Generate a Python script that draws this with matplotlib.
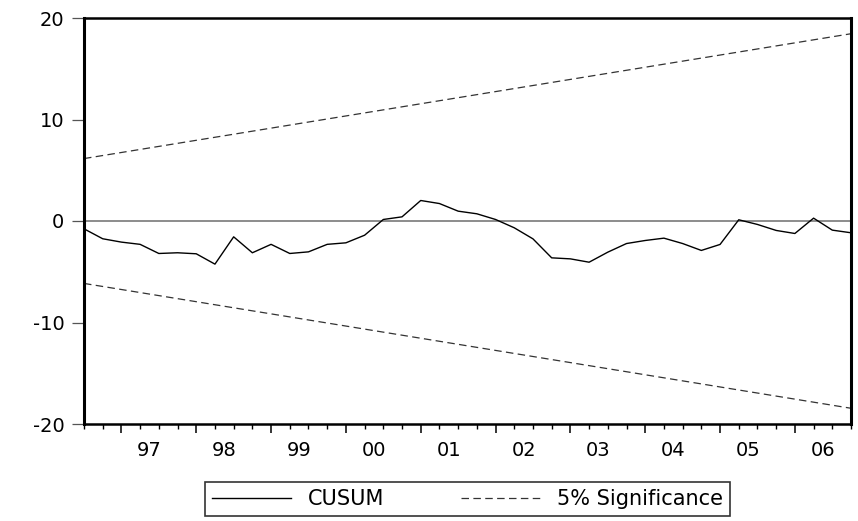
import matplotlib
matplotlib.use("Agg")
import matplotlib.pyplot as plt
import numpy as np

plt.rcParams["font.family"] = ["DejaVu Sans"]

# quarterly CUSUM, 1996Q3 .. 2006Q4
first_year, first_quarter = 1996, 3
cusum = [
    -0.77, -1.75, -2.08, -2.30, -3.20, -3.13, -3.23, -4.25, -1.56, -3.13,
    -2.30, -3.20, -3.04, -2.30, -2.15, -1.40, 0.15, 0.41, 2.02, 1.72,
    0.97, 0.71, 0.15, -0.67, -1.76, -3.63, -3.73, -4.06, -3.07, -2.22,
    -1.92, -1.69, -2.22, -2.90, -2.31, 0.12, -0.34, -0.93, -1.23, 0.28,
    -0.90, -1.16,
]
# 5% significance bounds at first and last observation (straight lines)
upper_bound = [6.15, 18.45]
lower_bound = [-6.15, -18.45]
year_labels = ["97", "98", "99", "00", "01", "02", "03", "04", "05", "06"]
y_ticks = [-20, -10, 0, 10, 20]

n = len(cusum)
x = np.arange(n)
ends = [0, n - 1]
# index of Q1 for each labelled year
q1_index = [(1 + k) * 4 - (first_quarter - 1) for k in range(len(year_labels))]
year_mid = [q + 1.5 for q in q1_index]

fig = plt.figure(figsize=(8.58, 5.21), dpi=100)
ax = fig.add_axes([84 / 858, 1 - 424 / 521, (851 - 84) / 858, (424 - 18) / 521])

ax.axhline(0, color="#6e6e6e", lw=1.1, zorder=1)
ax.plot(x, cusum, color="black", lw=1.0, label="CUSUM", zorder=3)
ax.plot(ends, upper_bound, color="#333333", lw=0.9, ls=(0, (6, 3.5)), label="5% Significance", zorder=2)
ax.plot(ends, lower_bound, color="#333333", lw=0.9, ls=(0, (6, 3.5)), zorder=2)

ax.set_xlim(0, n - 1)
ax.set_ylim(-20, 20)
ax.set_yticks(y_ticks)
ax.set_yticklabels([str(v) for v in y_ticks])
ax.tick_params(axis="y", length=8.6, width=0.9, color="#555555", pad=5.5, labelsize=14)

ax.set_xticks(q1_index)
ax.set_xticks(x, minor=True)
ax.tick_params(axis="x", which="major", length=6.3, width=1.1, labelbottom=False)
ax.tick_params(axis="x", which="minor", length=3.6, width=1.0)

for side in ("left", "right"):
    ax.spines[side].set_linewidth(2.2)
for side in ("top", "bottom"):
    ax.spines[side].set_linewidth(1.8)

sec = ax.secondary_xaxis("bottom")
sec.set_xticks(year_mid)
sec.set_xticklabels(year_labels)
sec.tick_params(length=0, pad=12, labelsize=14)
sec.spines["bottom"].set_visible(False)

leg = fig.legend(
    loc="upper center",
    bbox_to_anchor=(467.5 / 858, 1 - 482 / 521),
    ncol=2,
    fontsize=15,
    frameon=True,
    fancybox=False,
    edgecolor="black",
    handlelength=3.8,
    handletextpad=0.8,
    columnspacing=3.7,
    borderpad=0.34,
    borderaxespad=0,
)
leg.get_frame().set_linewidth(1.2)

fig.savefig("out.png", dpi=100)
